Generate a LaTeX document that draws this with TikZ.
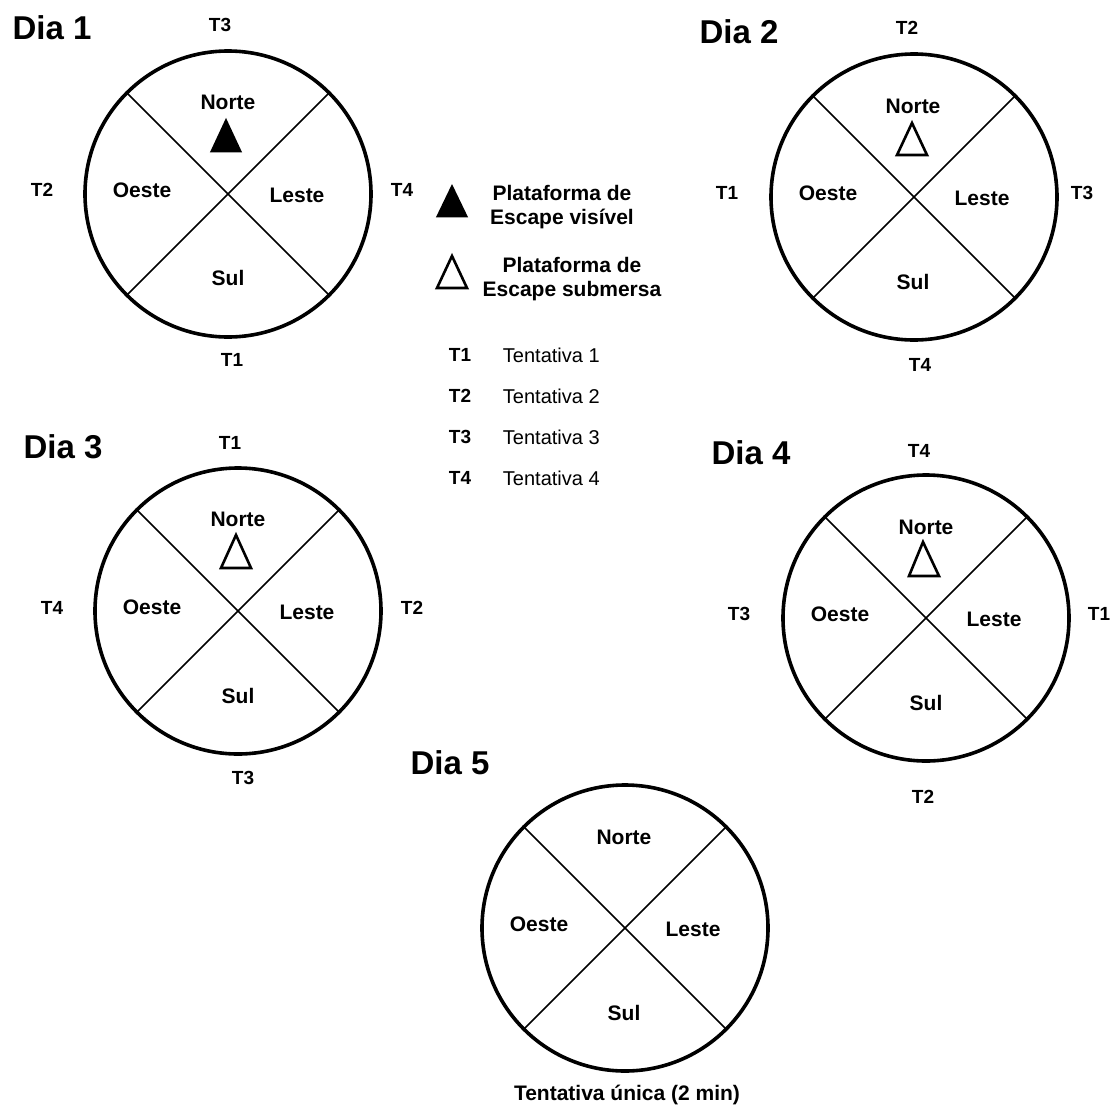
\documentclass[tikz,border=0pt]{standalone}
\usepackage{fontspec}
\setmainfont{Liberation Sans}
\usepackage{tikz}
\usepackage{xcolor}

\begin{document}
\begin{tikzpicture}[x=1pt,y=1pt,yscale=-1,xscale=1,
    arena/.style={line width=3.6pt},
    quad/.style={line width=1.6pt},
    plat/.style={line width=2.6pt,line join=miter},
    zone/.style={inner sep=0.75pt,font=\bfseries\fontsize{21}{25}\selectfont},
    trial/.style={inner sep=0.75pt,font=\bfseries\fontsize{19}{23}\selectfont},
    daytitle/.style={inner sep=0.75pt,font=\bfseries\fontsize{33}{38}\selectfont},
    legtext/.style={inner sep=0.75pt,align=center,font=\bfseries\fontsize{21}{24}\selectfont},
    tentext/.style={inner sep=0.75pt,anchor=west,font=\fontsize{20}{24}\selectfont}]
\useasboundingbox (0,0) rectangle (1114,1106);

%%%%%%%%%%%%%%%%%%%% Dia 1
\coordinate (c1) at (228,194);
%Shape: Circle
\draw [arena] (c1) circle (143);
%Straight Lines
\draw [quad] (c1) ++(45:143) -- ++(225:286);
\draw [quad] (c1) ++(135:143) -- ++(315:286);
%Shape: Triangle (visivel)
\draw [plat,fill=black] (226,121) -- (240,151) -- (212,151) -- cycle;
% Text Node
\node [daytitle] (dia1) at (52,28) {Dia 1};
\node [zone] (d1n) at (228,102) {Norte};
\node [zone] (d1o) at (142,190) {Oeste};
\node [zone] (d1l) at (297,195) {Leste};
\node [zone] (d1s) at (228,278) {Sul};
% Text Node
\node [trial] (d1t3) at (220,25) {T3};
\node [trial] (d1t2) at (42,190) {T2};
\node [trial] (d1t4) at (402,190) {T4};
\node [trial] (d1t1) at (232,360) {T1};

%%%%%%%%%%%%%%%%%%%% Dia 2
\coordinate (c2) at (914,197);
%Shape: Circle
\draw [arena] (c2) circle (143);
%Straight Lines
\draw [quad] (c2) ++(45:143) -- ++(225:286);
\draw [quad] (c2) ++(135:143) -- ++(315:286);
%Shape: Triangle (submersa)
\draw [plat,fill=white] (912,123) -- (927,155) -- (897,155) -- cycle;
% Text Node
\node [daytitle] (dia2) at (739,32) {Dia 2};
\node [zone] (d2n) at (913,106) {Norte};
\node [zone] (d2o) at (828,193) {Oeste};
\node [zone] (d2l) at (982,198) {Leste};
\node [zone] (d2s) at (913,282) {Sul};
% Text Node
\node [trial] (d2t2) at (907,28) {T2};
\node [trial] (d2t1) at (727,193) {T1};
\node [trial] (d2t3) at (1082,193) {T3};
\node [trial] (d2t4) at (920,365) {T4};

%%%%%%%%%%%%%%%%%%%% Dia 3
\coordinate (c3) at (238,611);
%Shape: Circle
\draw [arena] (c3) circle (143);
%Straight Lines
\draw [quad] (c3) ++(45:143) -- ++(225:286);
\draw [quad] (c3) ++(135:143) -- ++(315:286);
%Shape: Triangle (submersa)
\draw [plat,fill=white] (236,535) -- (251,568) -- (221,568) -- cycle;
% Text Node
\node [daytitle] (dia3) at (63,447) {Dia 3};
\node [zone] (d3n) at (238,519) {Norte};
\node [zone] (d3o) at (152,607) {Oeste};
\node [zone] (d3l) at (307,612) {Leste};
\node [zone] (d3s) at (238,696) {Sul};
% Text Node
\node [trial] (d3t1) at (230,443) {T1};
\node [trial] (d3t4) at (52,608) {T4};
\node [trial] (d3t2) at (412,608) {T2};
\node [trial] (d3t3) at (243,778) {T3};

%%%%%%%%%%%%%%%%%%%% Dia 4
\coordinate (c4) at (926,618);
%Shape: Circle
\draw [arena] (c4) circle (143);
%Straight Lines
\draw [quad] (c4) ++(45:143) -- ++(225:286);
\draw [quad] (c4) ++(135:143) -- ++(315:286);
%Shape: Triangle (submersa)
\draw [plat,fill=white] (923,542) -- (939,576) -- (909,576) -- cycle;
% Text Node
\node [daytitle] (dia4) at (751,453) {Dia 4};
\node [zone] (d4n) at (926,527) {Norte};
\node [zone] (d4o) at (840,614) {Oeste};
\node [zone] (d4l) at (994,619) {Leste};
\node [zone] (d4s) at (926,703) {Sul};
% Text Node
\node [trial] (d4t4) at (919,451) {T4};
\node [trial] (d4t3) at (739,614) {T3};
\node [trial] (d4t1) at (1099,614) {T1};
\node [trial] (d4t2) at (923,797) {T2};

%%%%%%%%%%%%%%%%%%%% Dia 5
\coordinate (c5) at (625,928);
%Shape: Circle
\draw [arena] (c5) circle (143);
%Straight Lines
\draw [quad] (c5) ++(45:143) -- ++(225:286);
\draw [quad] (c5) ++(135:143) -- ++(315:286);
% Text Node
\node [daytitle] (dia5) at (450,763) {Dia 5};
\node [zone] (d5n) at (624,837) {Norte};
\node [zone] (d5o) at (539,924) {Oeste};
\node [zone] (d5l) at (693,929) {Leste};
\node [zone] (d5s) at (624,1013) {Sul};
\node [zone] (d5unica) at (627,1095) {Tentativa única (2 min)};

%%%%%%%%%%%%%%%%%%%% Legenda
%Shape: Triangle
\draw [plat,fill=black] (452,187) -- (466,216) -- (438,216) -- cycle;
\node [legtext] (legvis) at (562,207) {Plataforma de\\Escape visível};
%Shape: Triangle
\draw [plat,fill=white] (452,256) -- (467,288) -- (437,288) -- cycle;
\node [legtext] (legsub) at (572,279) {Plataforma de\\Escape submersa};
% Text Node
\node [trial] (lt1) at (460,355) {T1};
\node [tentext] (lten1) at (502,355) {Tentativa 1};
\node [trial] (lt2) at (460,396) {T2};
\node [tentext] (lten2) at (502,396) {Tentativa 2};
\node [trial] (lt3) at (460,437) {T3};
\node [tentext] (lten3) at (502,437) {Tentativa 3};
\node [trial] (lt4) at (460,478) {T4};
\node [tentext] (lten4) at (502,478) {Tentativa 4};
\end{tikzpicture}
\end{document}
